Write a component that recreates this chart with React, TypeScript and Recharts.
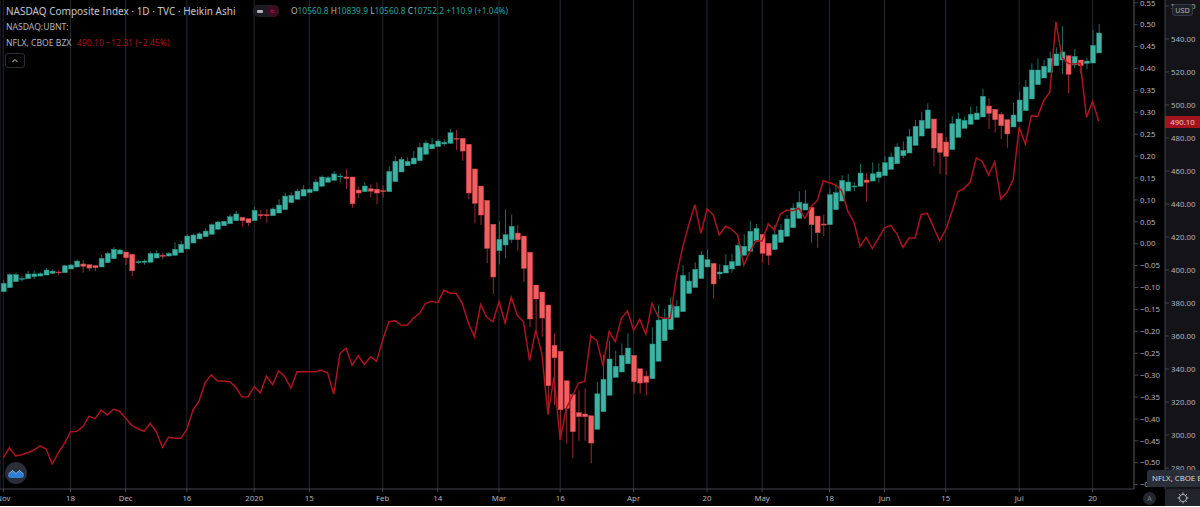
import { Bar, CartesianGrid, ComposedChart, Line, XAxis, YAxis } from 'recharts';

const FONT = '"Noto Sans", sans-serif';
const GRID = '#262a36';
const AXIS = '#45474f';
const TEXT = '#b2b5be';
const UP = '#3fb3a3';
const UP_EDGE = '#23897b';
const UP_WICK = '#1c6e63';
const DOWN = '#f25f60';
const DOWN_EDGE = '#c8424a';
const DOWN_WICK = '#9c2a30';
const NFLX_RED = '#ad141d';
const TICK_SIZE = 7.8;

// Heikin Ashi candles, NASDAQ Composite points, one row per session from 1 Nov 2019
const opens = [
  8269,8307,8365,8389,8393,8413,8419,8429,8445,8458,
  8451,8487,8506,8535,8528,8518,8506,8547,8585,8631,
  8650,8628,8547,8551,8551,8592,8618,8611,8618,8643,
  8679,8736,8775,8797,8820,8868,8902,8921,8950,8983,
  8969,8950,9008,9008,8998,9024,9056,9123,9156,9187,
  9219,9235,9281,9319,9338,9370,9370,9370,9245,9229,
  9257,9252,9238,9229,9325,9418,9478,9495,9526,9588,
  9641,9661,9687,9693,9741,9741,9684,9447,9283,9146,
  8916,8662,8717,8768,8832,8803,8647,8333,8266,8141,
  7754,7697,7414,7280,7107,7095,7078,6948,7117,7274,
  7447,7498,7577,7658,7529,7459,7433,7601,7798,7904,
  8023,8077,8253,8309,8395,8506,8541,8439,8448,8487,
  8518,8618,8657,8755,8820,8733,8672,8743,8801,8883,
  8973,9053,9079,8995,8919,8912,9056,9139,9235,9274,
  9281,9341,9331,9365,9382,9444,9497,9574,9600,9674,
  9763,9837,9927,9789,9706,9632,9751,9837,9876,9920,
  9946,10051,10020,9972,9920,9850,9901,10006,10119,10256,
  10320,10375,10438,10493,10534,10445,10493,10461,10464,10560.8,
];
const highs = [
  8381,8448,8451,8419,8470,8467,8455,8499,8484,8477,
  8528,8535,8576,8573,8528,8525,8621,8653,8695,8681,
  8650,8628,8573,8580,8653,8669,8643,8650,8743,8758,
  8820,8829,8839,8877,8925,8950,8950,9015,9043,8983,
  8969,9085,9053,9063,9079,9156,9219,9223,9257,9290,
  9261,9351,9386,9379,9427,9405,9447,9370,9277,9319,
  9300,9319,9290,9473,9571,9565,9559,9619,9699,9725,
  9744,9735,9735,9831,9821,9741,9684,9447,9283,9146,
  8916,8947,9060,9008,8909,8803,8647,8333,8266,8141,
  7869,7697,7414,7280,7325,7341,7078,7405,7661,7798,
  7702,7773,7869,7658,7529,7510,7927,8138,8103,8215,
  8189,8525,8458,8551,8659,8676,8541,8532,8631,8634,
  8739,8820,8950,8919,8820,8733,8909,8919,9005,9117,
  9233,9245,9079,8995,9008,9261,9309,9386,9399,9319,
  9495,9408,9511,9501,9567,9605,9693,9713,9833,9917,
  9994,10077,9927,9789,9754,9955,9987,9949,10045,10051,
  10215,10128,10020,9994,9920,10080,10189,10301,10461,10509,
  10493,10573,10615,10819,10534,10599,10493,10512,10781,10839.9,
];
const lows = [
  8269,8307,8365,8365,8393,8393,8419,8429,8439,8426,
  8451,8487,8506,8451,8467,8467,8506,8547,8585,8631,
  8525,8419,8535,8528,8551,8592,8580,8611,8618,8643,
  8679,8736,8775,8797,8820,8868,8902,8921,8950,8893,
  8902,8950,8967,8931,8998,9024,9056,9123,9156,9187,
  9219,9235,9281,9319,9338,9319,9255,9075,9168,9229,
  9171,9108,9171,9229,9325,9418,9478,9495,9526,9588,
  9641,9661,9667,9693,9629,9526,9156,8925,8909,8541,
  8247,8532,8589,8739,8662,8362,7927,7901,7837,7085,
  7181,6845,6813,6669,6838,6838,6621,6948,7117,7274,
  7447,7498,7577,7287,7293,7270,7433,7601,7798,7904,
  8023,8077,8253,8309,8395,8506,8201,8388,8448,8451,
  8518,8618,8657,8755,8547,8525,8672,8743,8801,8883,
  8973,9053,8739,8691,8803,8912,9056,9139,9235,9233,
  9281,9133,9331,9315,9382,9444,9497,9549,9600,9674,
  9763,9837,9475,9399,9389,9632,9751,9837,9876,9920,
  9946,9831,9795,9735,9651,9850,9901,10006,10119,10256,
  10320,10375,10438,10356,10173,10413,10359,10407,10464,10560.8,
];
const closes = [
  8349,8432,8432,8395,8439,8439,8441,8477,8467,8451,
  8518,8525,8563,8513,8496,8499,8589,8637,8676,8669,
  8595,8470,8557,8563,8637,8637,8609,8637,8676,8724,
  8803,8813,8825,8851,8912,8938,8945,8989,9015,8950,
  8931,9050,8998,8998,9063,9101,9187,9194,9235,9252,
  9252,9322,9370,9363,9399,9379,9357,9113,9216,9283,
  9233,9216,9229,9423,9521,9540,9521,9552,9655,9696,
  9684,9715,9703,9795,9735,9619,9216,9117,9005,8685,
  8410,8772,8816,8897,8768,8493,8007,8199,8016,7366,
  7635,7136,7149,6925,7069,7069,6816,7289,7428,7623,
  7553,7658,7728,7405,7392,7399,7767,7997,8009,8141,
  8129,8426,8371,8484,8621,8576,8343,8458,8522,8557,
  8714,8705,8849,8877,8637,8618,8816,8861,8967,9072,
  9127,9113,8912,8835,8909,9200,9219,9338,9322,9283,
  9408,9319,9401,9418,9507,9562,9658,9626,9757,9857,
  9914,10013,9648,9607,9569,9881,9927,9914,9972,9984,
  10145,9981,9920,9862,9783,9965,10109,10234,10397,10397,
  10433,10509,10551,10570,10356,10529,10438,10483,10634,10752.2,
];

// NFLX close, USD
const nflx = [
  286.2,292.3,287.4,288.1,289.3,290.9,293.5,291.5,282.4,289.3,
  295,302,302.2,305,311.3,309.9,315.1,312.1,315.6,314.4,
  310.1,305.9,303.8,302.2,307.1,302,292.5,298.6,298,298,
  303.4,315.1,320.6,331.9,336.5,332.7,332.7,332.3,328.9,323,
  323.2,329.3,325.4,335.7,330.5,338.8,335.3,328.5,338.3,338.3,
  338.3,338.3,339.2,337.6,324.8,349.1,352.7,342.2,348,342.8,
  347.4,344.7,357.6,368.6,369.3,366.6,366.5,370.7,373.6,379.8,
  381,380.2,387.7,385.9,385.9,379.8,367.7,359.6,379.2,371.3,
  368.6,380.8,367.9,383.5,372.4,368.6,345.1,363.6,349.5,312.7,
  335.3,297,316.2,323.8,331.5,332.3,360.2,357.1,342,362.8,
  356.5,370.7,375.1,363.6,370.1,361,379.8,371.7,370.7,370.7,
  396.3,413.6,427.2,439.6,422.2,437.1,433.3,421.2,426.5,424.8,
  421.2,403,411.1,417.7,417.6,427.9,424.2,433.9,436.3,435.9,
  437.4,431.3,438.3,442,454.1,452.9,451.5,448,435.7,429.1,
  414.3,419.8,413,419.2,425.6,426.9,422.1,413.7,419.4,419.4,
  433.7,434.3,425.9,417.7,424.6,435.3,447.4,449.5,453.3,467.9,
  465.6,457.5,465.6,442.8,447.1,454.5,486.5,476.3,493.5,492.9,
  502.6,507.7,550.4,528.6,525.2,524.8,525.2,492.5,502.2,490.1,
];

const xTickRows = [0, 11, 20, 30, 41, 50, 62, 71, 81, 91, 103, 115, 124, 135, 144, 154, 166, 178];
const xTickLabels = ['Nov', '18', 'Dec', '16', '2020', '15', 'Feb', '14', 'Mar', '16', 'Apr', '20', 'May', '18', 'Jun', '15', 'Jul', '20'];
const pctTicks = [0.55, 0.5, 0.45, 0.4, 0.35, 0.3, 0.25, 0.2, 0.15, 0.1, 0.05, 0, -0.05, -0.1, -0.15, -0.2, -0.25, -0.3, -0.35, -0.4, -0.45, -0.5, -0.55];
const usdTicks = [560, 540, 520, 500, 480, 460, 440, 420, 400, 380, 360, 340, 320, 300, 280];

// 5 empty sessions after the last candle leave the gap before the price axis
const FUTURE_ROWS = 5;
const rows = Array.from({ length: opens.length + FUTURE_ROWS }, (_, i) =>
  i < opens.length
    ? { i, open: opens[i], high: highs[i], low: lows[i], close: closes[i], range: [lows[i], highs[i]], nflx: nflx[i] }
    : { i },
);

function Candle(props: any) {
  const { x, y, width, height, payload } = props;
  if (payload?.range == null) return null;
  const up = payload.close >= payload.open;
  const pxPerPoint = height / (payload.high - payload.low);
  const top = y + (payload.high - Math.max(payload.open, payload.close)) * pxPerPoint;
  const bodyH = Math.abs(payload.open - payload.close) * pxPerPoint;
  const mid = x + width / 2;
  return (
    <g>
      <line x1={mid} x2={mid} y1={y} y2={y + height} stroke={up ? UP_WICK : DOWN_WICK} strokeWidth={1} />
      <rect
        x={x}
        y={top}
        width={width}
        height={Math.max(bodyH, 0.8)}
        fill={up ? UP : DOWN}
        stroke={up ? UP_EDGE : DOWN_EDGE}
        strokeWidth={0.5}
      />
    </g>
  );
}

const fmtPct = (v: number) => (v < 0 ? `\u2212${Math.abs(v).toFixed(2)}` : v.toFixed(2));

function Label({ x, y, color, size = 8.6, children }: any) {
  return (
    <div
      style={{
        position: 'absolute',
        left: x,
        top: y,
        color,
        fontSize: size,
        lineHeight: `${size + 3}px`,
        whiteSpace: 'nowrap',
        fontFamily: FONT,
      }}
    >
      {children}
    </div>
  );
}

export default function App() {
  return (
    <div style={{ position: 'absolute', left: 0, top: 0, width: 1200, height: 506, background: '#000', overflow: 'hidden' }}>
      <div style={{ position: 'absolute', left: 1165, top: 0, width: 35, height: 489, background: '#131318' }} />
      <div style={{ position: 'absolute', left: 1165, top: 489, width: 35, height: 17, background: '#22242b' }} />

      <div style={{ position: 'absolute', left: 0, top: 0 }}>
        <ComposedChart width={1200} height={506} data={rows} margin={{ top: 0, right: 0, bottom: 0, left: 0 }}>
          <CartesianGrid vertical horizontal={false} stroke={GRID} yAxisId="usd" />
          <XAxis
            dataKey="i"
            ticks={xTickRows}
            interval={0}
            height={17}
            padding={{ left: 0.2, right: 1.6 }}
            stroke={AXIS}
            tickSize={3}
            tickMargin={3}
            tick={{ fontSize: TICK_SIZE, fill: TEXT, fontFamily: FONT }}
            tickFormatter={(v: number) => xTickLabels[xTickRows.indexOf(v)]}
          />
          <YAxis yAxisId="index" hide domain={[6375, 11069]} allowDataOverflow />
          <YAxis
            yAxisId="pct"
            orientation="right"
            width={31}
            domain={[-0.56, 0.5564]}
            allowDataOverflow
            ticks={pctTicks}
            interval={0}
            stroke={AXIS}
            tickSize={4}
            tickMargin={2}
            tick={{ fontSize: TICK_SIZE, fill: TEXT, fontFamily: FONT }}
            tickFormatter={fmtPct}
          />
          <YAxis
            yAxisId="usd"
            orientation="right"
            width={35}
            domain={[267.3, 563.6]}
            allowDataOverflow
            ticks={usdTicks}
            interval={0}
            stroke={AXIS}
            tickSize={4}
            tickMargin={2}
            tick={{ fontSize: TICK_SIZE, fill: TEXT, fontFamily: FONT }}
            tickFormatter={(v: number) => v.toFixed(2)}
          />
          <Bar yAxisId="index" dataKey="range" barSize={5} shape={Candle} isAnimationActive={false} />
          <Line
            yAxisId="usd"
            dataKey="nflx"
            type="linear"
            stroke={NFLX_RED}
            strokeWidth={1.5}
            dot={false}
            activeDot={false}
            isAnimationActive={false}
          />
        </ComposedChart>
      </div>

      <Label x={6} y={4.5} color="#c3c6ce" size={10}>
        NASDAQ Composite Index · 1D · TVC · Heikin Ashi
      </Label>
      <div style={{ position: 'absolute', left: 253, top: 5, width: 26, height: 12, borderRadius: 5, background: '#1b1c22' }} />
      <div style={{ position: 'absolute', left: 267, top: 5, width: 12, height: 12, borderRadius: 5, background: '#3a0f22' }} />
      <div style={{ position: 'absolute', left: 257, top: 10, width: 6, height: 2.5, borderRadius: 1, background: '#b2b5be' }} />
      <Label x={270} y={4.5} color="#d81e5b" size={8.5}>≈</Label>
      <Label x={291} y={5.25} color="#26a69a" size={8.4}>
        <span style={{ color: '#b2b5be' }}>O</span>10560.8 <span style={{ color: '#b2b5be' }}>H</span>10839.9{' '}
        <span style={{ color: '#b2b5be' }}>L</span>10560.8 <span style={{ color: '#b2b5be' }}>C</span>10752.2 +110.9 (+1.04%)
      </Label>
      <Label x={6} y={22.25} color="#b2b5be">NASDAQ:UBNT:</Label>
      <Label x={6} y={38.25} color="#b2b5be">NFLX, CBOE BZX</Label>
      <Label x={77} y={38.25} color="#a8141d">490.10 −12.31 (−2.45%)</Label>
      <div style={{ position: 'absolute', left: 5, top: 53, width: 20, height: 15, borderRadius: 3, border: '1px solid #2a2e39', boxSizing: 'border-box' }}>
        <svg width={18} height={13} style={{ display: 'block' }}>
          <path d="M6.5 8 L9 5.5 L11.5 8" fill="none" stroke="#d1d4dc" strokeWidth={1} />
        </svg>
      </div>

      <svg width={24} height={24} style={{ position: 'absolute', left: 4, top: 461 }}>
        <circle cx={12} cy={12} r={11} fill="#2a2e39" />
        <path d="M4 14 L8.5 9.5 L12 12.5 L15.5 9.5 L20 13.5 Q20 17 17 17 L7 17 Q4 17 4 14 Z" fill="#2f7fd6" />
        <path d="M4.5 13 L8.5 9.5 L12 12.5 L15.5 9.5 L19.5 13" fill="none" stroke="#7fb8f0" strokeWidth={1} />
      </svg>

      <div style={{ position: 'absolute', left: 1172, top: 4, width: 21, height: 12, borderRadius: 3, background: '#1e2028', border: '1px solid #363a45', boxSizing: 'border-box', color: '#b2b5be', fontSize: 7.2, lineHeight: '10px', textAlign: 'center', fontFamily: FONT }}>
        USD
      </div>
      <div style={{ position: 'absolute', left: 1165, top: 116, width: 35, height: 12, background: '#a3141c', color: '#e6c9ca', fontSize: TICK_SIZE, lineHeight: '12px', textAlign: 'center', fontFamily: FONT }}>
        490.10
      </div>
      <div style={{ position: 'absolute', left: 1147, top: 470, width: 53, height: 17, background: '#2a2e39', borderRadius: '2px 0 0 2px', color: '#d1d4dc', fontSize: 7.8, lineHeight: '17px', paddingLeft: 5, whiteSpace: 'nowrap', overflow: 'hidden', boxSizing: 'border-box', fontFamily: FONT }}>
        NFLX, CBOE BZX
      </div>
      <div style={{ position: 'absolute', left: 1143, top: 492, width: 13, height: 13, borderRadius: 7, background: '#24262d', color: '#7d808a', fontSize: 7, lineHeight: '13px', textAlign: 'center', fontFamily: FONT }}>
        A
      </div>
      <svg width={16} height={16} style={{ position: 'absolute', left: 1175, top: 490 }}>
        <circle cx={8} cy={8} r={3.6} fill="none" stroke="#b2b5be" strokeWidth={1} />
        <path d="M8 2.5 V4.4 M8 11.6 V13.5 M2.5 8 H4.4 M11.6 8 H13.5 M4.2 4.2 L5.4 5.4 M10.6 10.6 L11.8 11.8 M4.2 11.8 L5.4 10.6 M10.6 5.4 L11.8 4.2" stroke="#b2b5be" strokeWidth={1} />
      </svg>
    </div>
  );
}
